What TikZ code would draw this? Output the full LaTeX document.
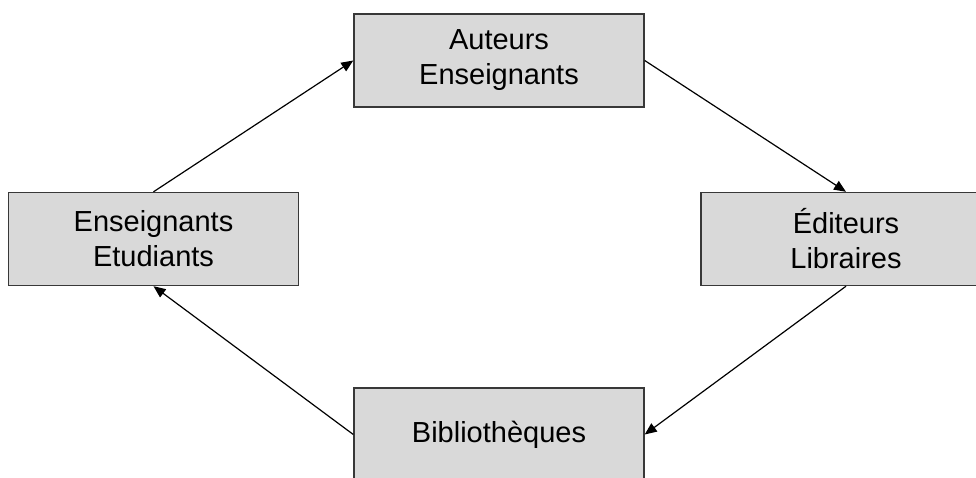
\documentclass[tikz,border=0pt]{standalone}
\usepackage{fontspec}
\setmainfont{Liberation Sans}
\usetikzlibrary{arrows.meta}
\definecolor{boxfill}{HTML}{D9D9D9}
\definecolor{boxline}{HTML}{383838}
\tikzset{
  actor/.style={draw=boxline, fill=boxfill, line width=1.4pt, minimum width=290pt, minimum height=93pt, inner sep=0pt, align=center, font=\fontsize{29}{35}\selectfont},
  flow/.style={-{Triangle[length=12pt,width=10pt]}, line width=1.2pt, black}
}
\begin{document}
\begin{tikzpicture}[x=1pt,y=-1pt]
\useasboundingbox (0,0) rectangle (976,478);
\clip (0,0) rectangle (976,478);
\node[actor] (top) at (499,60.5) {Auteurs\\Enseignants};
\node[actor] (left) at (153.5,239) {Enseignants\\Etudiants};
\node[actor] (right) at (846,239) {Éditeurs\\Libraires};
\node[actor] (bottom) at (499,434.5) {Bibliothèques};
\draw[flow] (left.north) -- (top.west);
\draw[flow] (top.east) -- (right.north);
\draw[flow] (right.south) -- (bottom.east);
\draw[flow] (bottom.west) -- (left.south);
\end{tikzpicture}
\end{document}
